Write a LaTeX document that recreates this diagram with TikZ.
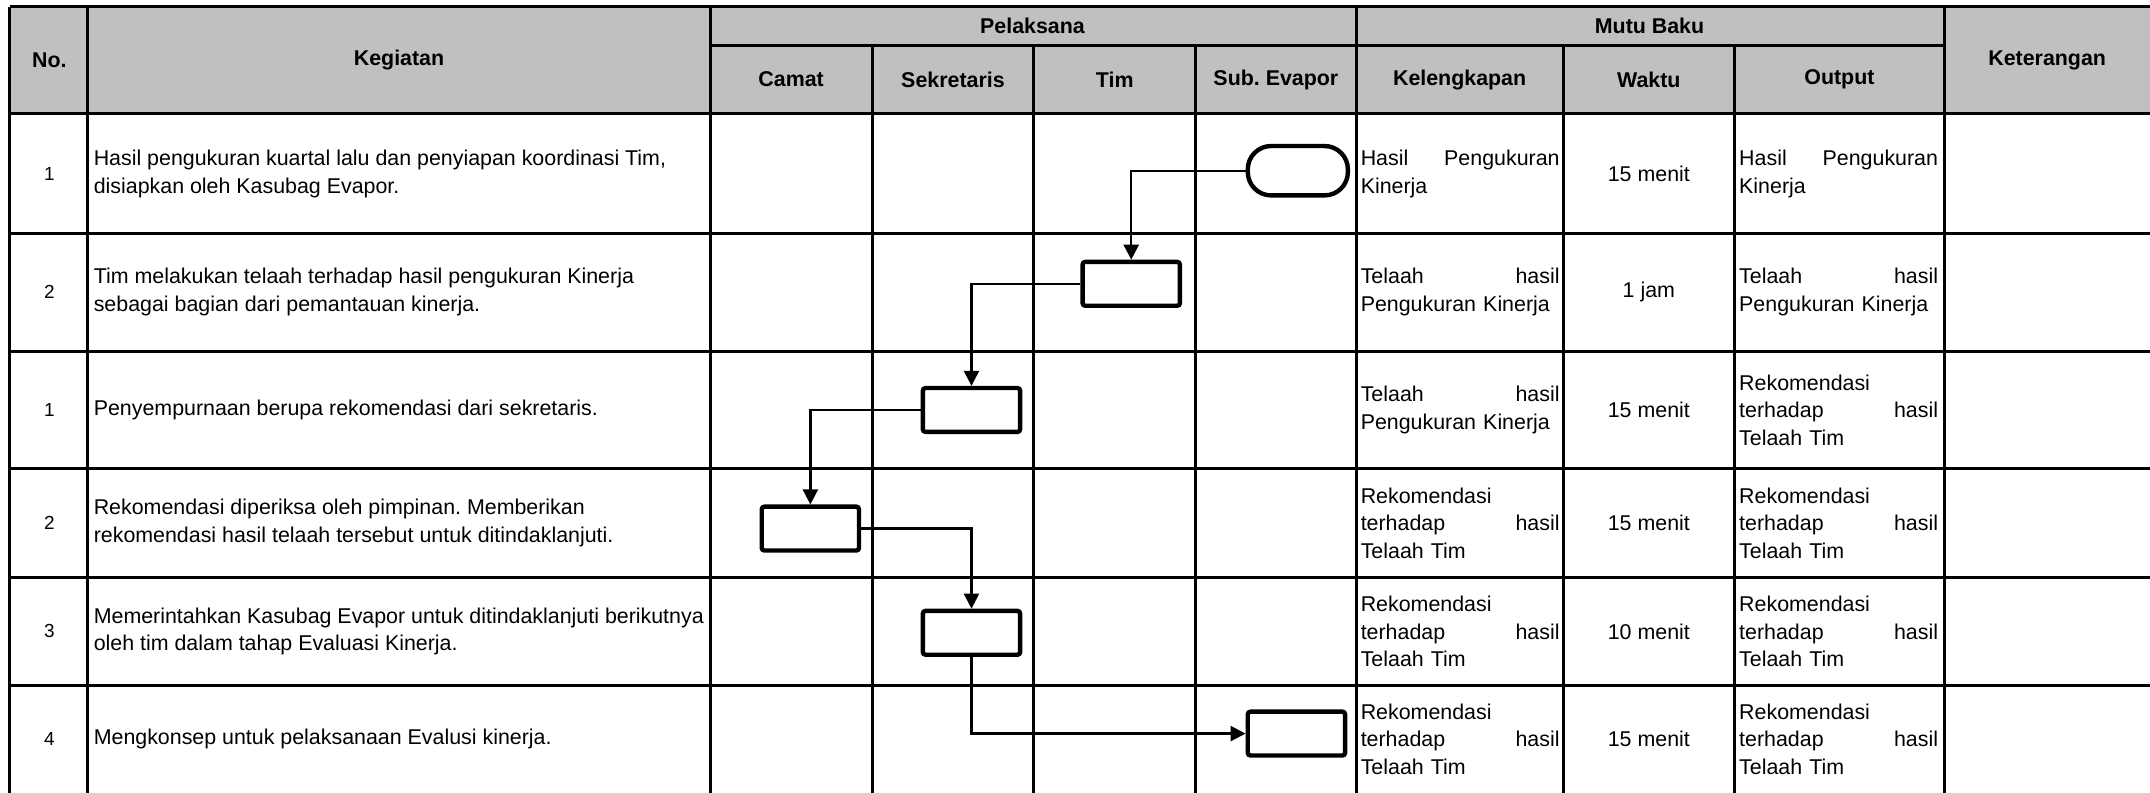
\documentclass[tikz,border=0pt]{standalone}
\usepackage{fontspec}
\setmainfont{Liberation Sans}
\usetikzlibrary{arrows.meta}
\definecolor{hdr}{HTML}{C0C0C0}
\frenchspacing
\begin{document}
\begin{tikzpicture}[x=0.5pt,y=-0.5pt,
  gridline/.style={line width=1.1pt},
  hd/.style={font=\fontsize{7.8}{9.5}\selectfont\bfseries, inner sep=0pt},
  txt/.style={font=\fontsize{7.8}{10}\selectfont, inner sep=0pt, align=left, anchor=west},
  num/.style={font=\fontsize{6.9}{8}\selectfont, inner sep=0pt},
  ctr/.style={font=\fontsize{7.8}{10}\selectfont, inner sep=0pt},
  cell/.style={font=\fontsize{7.8}{10}\selectfont, inner sep=0pt, align=left, text width=72.5pt, anchor=west},
  proc/.style={draw, line width=1.6pt, rounded corners=1pt, minimum width=35.5pt, minimum height=16pt, inner sep=0pt},
  term/.style={draw, line width=1.6pt, rounded corners=8.5pt, minimum width=36.5pt, minimum height=18pt, inner sep=0pt},
  conn/.style={line width=0.85pt},
  arr/.style={conn, -{Triangle[length=5.5pt,width=5.5pt]}}
]
\useasboundingbox (0,0) rectangle (1568,578);
% header background
\fill[hdr] (7,5) rectangle (1590,83);
% horizontal lines
\draw[gridline] (7,5) -- (1590,5);
\draw[gridline] (518,33) -- (1418,33);
\foreach \yy in {83,170,256,342,421,500} \draw[gridline] (7,\yy) -- (1590,\yy);
% vertical lines
\foreach \xx in {7,64,518,989,1418} \draw[gridline] (\xx,5) -- (\xx,600);
\foreach \xx in {636,754,872,1140,1265} \draw[gridline] (\xx,33) -- (\xx,600);
% header texts
\node[hd] (hno) at (36,44) {No.};
\node[hd] (hkeg) at (291,44) {Kegiatan};
\node[hd] (hpel) at (753,19) {Pelaksana};
\node[hd] (hcam) at (577,58) {Camat};
\node[hd] (hsek) at (695,58) {Sekretaris};
\node[hd] (htim) at (813,58) {Tim};
\node[hd] (hsub) at (930.5,58) {Sub. Evapor};
\node[hd] (hmutu) at (1203,19) {Mutu Baku};
\node[hd] (hkel) at (1064.5,58) {Kelengkapan};
\node[hd] (hwak) at (1202.5,58) {Waktu};
\node[hd] (hout) at (1341.5,58) {Output};
\node[hd] (hket) at (1493,44) {Keterangan};
% numbers
\node[num] (n1) at (36,127) {1};
\node[num] (n2) at (36,213) {2};
\node[num] (n3) at (36,299) {1};
\node[num] (n4) at (36,381.5) {2};
\node[num] (n5) at (36,460.5) {3};
\node[num] (n6) at (36,539) {4};
% kegiatan
\node[txt] (k1) at (68,127) {Hasil pengukuran kuartal lalu dan penyiapan koordinasi Tim,\\disiapkan oleh Kasubag Evapor.};
\node[txt] (k2) at (68,213) {Tim melakukan telaah terhadap hasil pengukuran Kinerja\\sebagai bagian dari pemantauan kinerja.};
\node[txt] (k3) at (68,299) {Penyempurnaan berupa rekomendasi dari sekretaris.};
\node[txt] (k4) at (68,381.5) {Rekomendasi diperiksa oleh pimpinan. Memberikan\\rekomendasi hasil telaah tersebut untuk ditindaklanjuti.};
\node[txt] (k5) at (68,460.5) {Memerintahkan Kasubag Evapor untuk ditindaklanjuti berikutnya\\oleh tim dalam tahap Evaluasi Kinerja.};
\node[txt] (k6) at (68,539) {Mengkonsep untuk pelaksanaan Evalusi kinerja.};
% kelengkapan
\node[cell] (c1) at (992,127) {Hasil\hfill Pengukuran\\Kinerja};
\node[cell] (c2) at (992,213) {Telaah\hfill hasil\\Pengukuran Kinerja};
\node[cell] (c3) at (992,299) {Telaah\hfill hasil\\Pengukuran Kinerja};
\node[cell] (c4) at (992,381.5) {Rekomendasi\\terhadap\hfill hasil\\Telaah Tim};
\node[cell] (c5) at (992,460.5) {Rekomendasi\\terhadap\hfill hasil\\Telaah Tim};
\node[cell] (c6) at (992,539) {Rekomendasi\\terhadap\hfill hasil\\Telaah Tim};
% waktu
\node[ctr] (w1) at (1202.5,127) {15 menit};
\node[ctr] (w2) at (1202.5,213) {1 jam};
\node[ctr] (w3) at (1202.5,299) {15 menit};
\node[ctr] (w4) at (1202.5,381.5) {15 menit};
\node[ctr] (w5) at (1202.5,460.5) {10 menit};
\node[ctr] (w6) at (1202.5,539) {15 menit};
% output
\node[cell] (o1) at (1268,127) {Hasil\hfill Pengukuran\\Kinerja};
\node[cell] (o2) at (1268,213) {Telaah\hfill hasil\\Pengukuran Kinerja};
\node[cell] (o3) at (1268,299) {Rekomendasi\\terhadap\hfill hasil\\Telaah Tim};
\node[cell] (o4) at (1268,381.5) {Rekomendasi\\terhadap\hfill hasil\\Telaah Tim};
\node[cell] (o5) at (1268,460.5) {Rekomendasi\\terhadap\hfill hasil\\Telaah Tim};
\node[cell] (o6) at (1268,539) {Rekomendasi\\terhadap\hfill hasil\\Telaah Tim};
% flow shapes
\node[term] (t1) at (946.5,124.5) {};
\node[proc] (b2) at (825,207) {};
\node[proc] (b3) at (708.5,299) {};
\node[proc] (b4) at (591,385.5) {};
\node[proc] (b5) at (708.5,461.5) {};
\node[proc] (b6) at (945.5,535) {};
% connectors
\draw[arr] (t1.west) -| (b2.north);
\draw[arr] (b2.west) -| (b3.north);
\draw[arr] (b3.west) -| (b4.north);
\draw[arr] (b4.east) -| (b5.north);
\draw[arr] (b5.south) |- (b6.west);
\end{tikzpicture}
\end{document}
